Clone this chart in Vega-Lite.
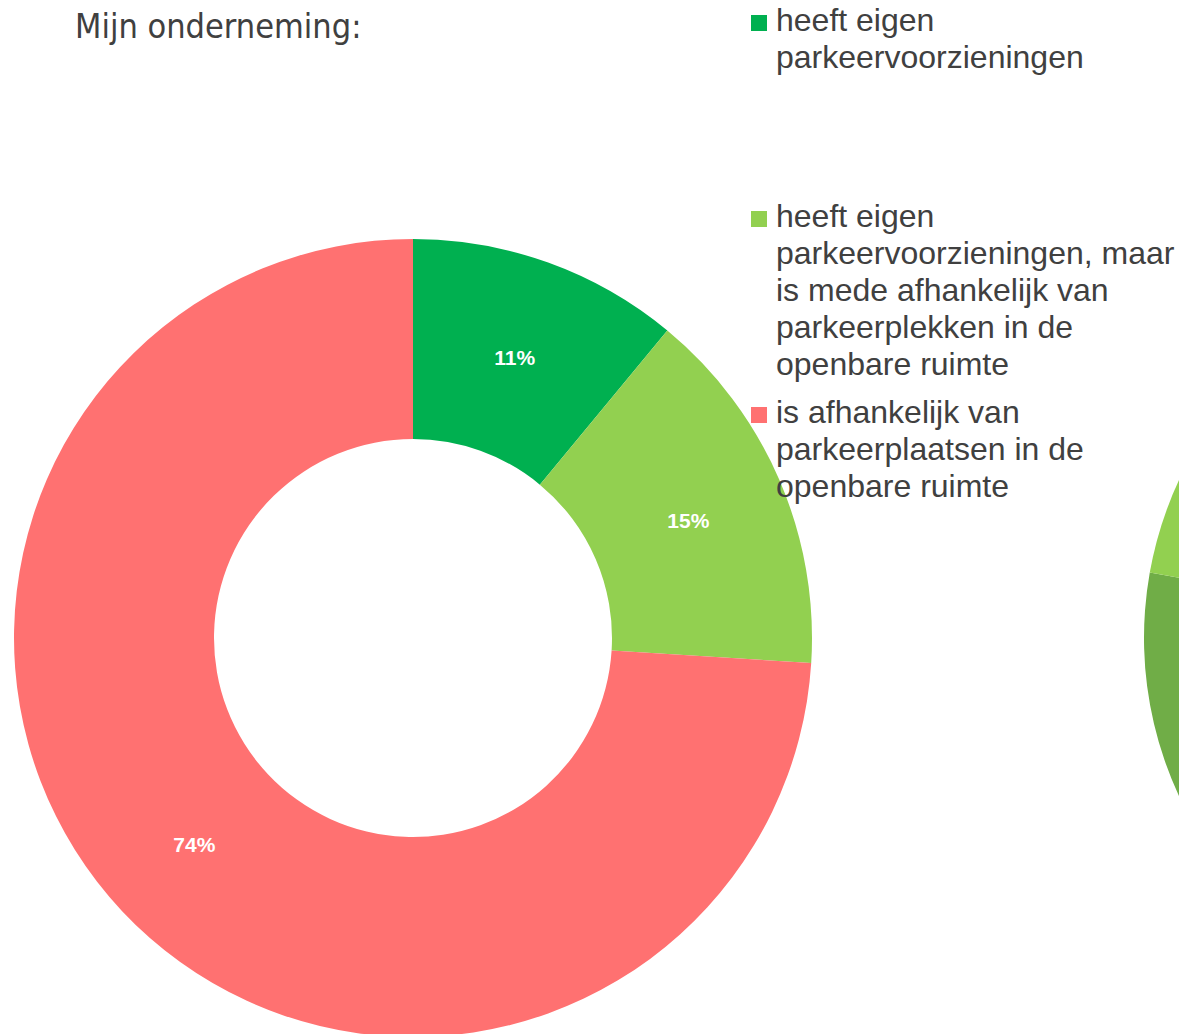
{
  "$schema": "https://vega.github.io/schema/vega-lite/v6.json",
  "width": 1166,
  "height": 792,
  "autosize": {"type": "none"},
  "padding": {"left": 13, "top": 242, "right": 0, "bottom": 0},
  "background": "white",
  "title": {
    "text": "Mijn onderneming:",
    "anchor": "start",
    "frame": "group",
    "orient": "top",
    "dx": 62,
    "offset": -30,
    "font": "DejaVu Sans Condensed",
    "fontSize": 34,
    "fontWeight": "normal",
    "color": "#404040"
  },
  "config": {
    "view": {"stroke": null},
    "style": {"guide-label": {"lineHeight": 37}},
    "legend": {
      "orient": "none",
      "legendX": 730,
      "legendY": -227,
      "padding": 0,
      "symbolType": "M-1,-2H1V0H-1Z",
      "symbolSize": 256,
      "symbolStrokeWidth": 0,
      "labelFont": "Liberation Sans",
      "labelFontSize": 32,
      "labelColor": "#404040",
      "labelLimit": 0,
      "labelOffset": 1,
      "labelBaseline": "alphabetic",
      "rowPadding": 16,
      "title": null
    }
  },
  "layer": [
    {
      "data": {"values": [
        {"grafiek": "rechts", "deel": "deel 1", "volgorde": 1, "aandeel": 77.8},
        {"grafiek": "rechts", "deel": "deel 2", "volgorde": 2, "aandeel": 22.2}
      ]},
      "mark": {"type": "arc", "outerRadius": 374},
      "encoding": {
        "x": {"field": "grafiek", "type": "nominal", "axis": null, "scale": {"type": "point", "padding": 0, "domain": ["links", "rechts"], "range": [400, 1505]}},
        "theta": {"field": "aandeel", "type": "quantitative", "stack": true},
        "order": {"field": "volgorde", "type": "quantitative"},
        "color": {"field": "deel", "type": "nominal", "legend": null, "scale": {"domain": ["deel 1", "deel 2"], "range": ["#70AD47", "#92D050"]}}
      }
    },
    {
      "data": {"values": [
        {"grafiek": "links", "categorie": "heeft eigen parkeervoorzieningen", "volgorde": 1, "aandeel": 11, "label": "11%"},
        {"grafiek": "links", "categorie": "heeft eigen parkeervoorzieningen, maar is mede afhankelijk van parkeerplekken in de openbare ruimte", "volgorde": 2, "aandeel": 15, "label": "15%"},
        {"grafiek": "links", "categorie": "is afhankelijk van parkeerplaatsen in de openbare ruimte", "volgorde": 3, "aandeel": 74, "label": "74%"}
      ]},
      "encoding": {
        "x": {"field": "grafiek", "type": "nominal", "axis": null, "scale": {"type": "point", "padding": 0, "domain": ["links", "rechts"], "range": [400, 1505]}},
        "theta": {"field": "aandeel", "type": "quantitative", "stack": true},
        "order": {"field": "volgorde", "type": "quantitative"}
      },
      "layer": [
        {
          "mark": {"type": "arc", "outerRadius": 399, "innerRadius": 199},
          "encoding": {
            "color": {
              "field": "categorie",
              "type": "nominal",
              "sort": null,
              "scale": {
                "domain": [
                  "heeft eigen parkeervoorzieningen",
                  "heeft eigen parkeervoorzieningen, maar is mede afhankelijk van parkeerplekken in de openbare ruimte",
                  "is afhankelijk van parkeerplaatsen in de openbare ruimte"
                ],
                "range": ["#00B050", "#92D050", "#FF7171"]
              },
              "legend": {
                "labelExpr": "datum.label == 'heeft eigen parkeervoorzieningen' ? ['heeft eigen', 'parkeervoorzieningen', '', '', ''] : datum.label == 'is afhankelijk van parkeerplaatsen in de openbare ruimte' ? ['is afhankelijk van', 'parkeerplaatsen in de', 'openbare ruimte'] : ['heeft eigen', 'parkeervoorzieningen, maar', 'is mede afhankelijk van', 'parkeerplekken in de', 'openbare ruimte']"
              }
            }
          }
        },
        {
          "mark": {"type": "text", "radius": 300, "dy": 3, "font": "Liberation Sans", "fontSize": 21, "fontWeight": "bold", "color": "white"},
          "encoding": {
            "text": {"field": "label", "type": "nominal"}
          }
        }
      ]
    }
  ],
  "resolve": {"scale": {"theta": "independent", "color": "independent"}}
}
